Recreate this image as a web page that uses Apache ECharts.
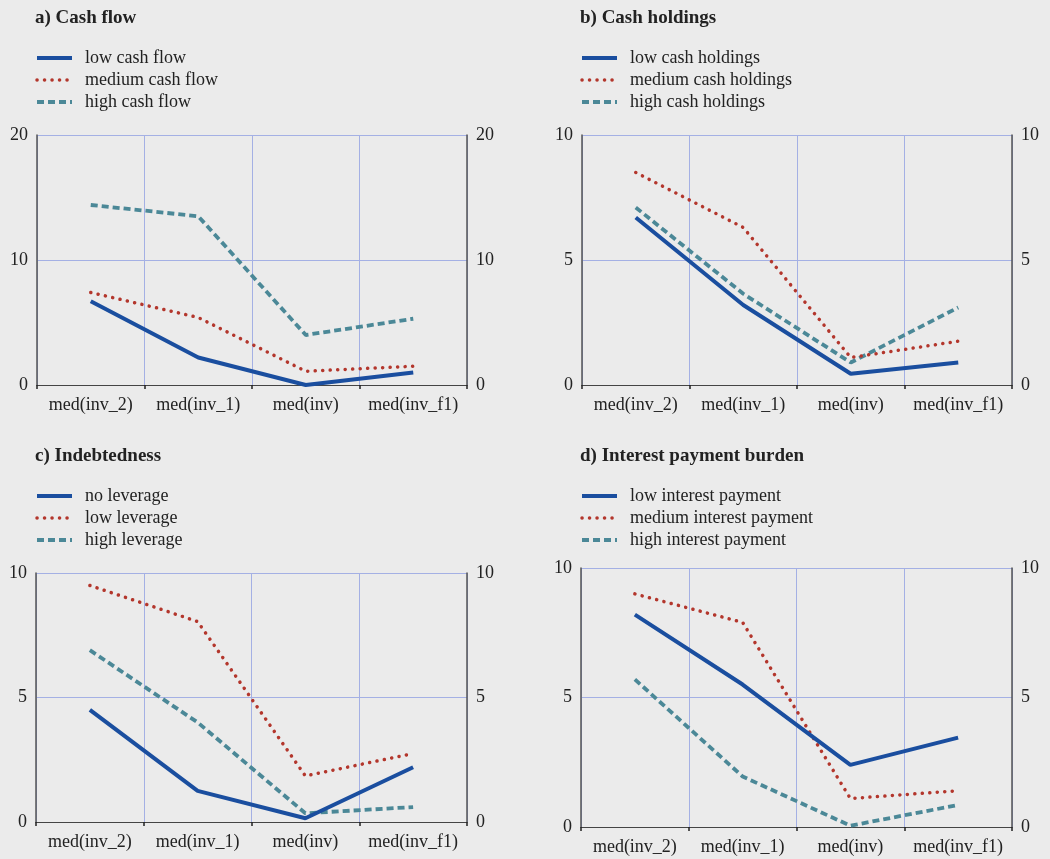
<!DOCTYPE html>
<html>
<head>
<meta charset="utf-8">
<script src="https://cdn.jsdelivr.net/npm/echarts@6/dist/echarts.min.js"></script>
<style>
html,body{margin:0;padding:0;background:#ebebeb;}
#chart{width:1050px;height:859px;}
</style>
</head>
<body>
<div id="chart"></div>
<script>
const categories = ['med(inv_2)', 'med(inv_1)', 'med(inv)', 'med(inv_f1)'];
const panelTitles = ['a) Cash flow', 'b) Cash holdings', 'c) Indebtedness', 'd) Interest payment burden'];

const namesA = ['low cash flow', 'medium cash flow', 'high cash flow'];
const namesB = ['low cash holdings', 'medium cash holdings', 'high cash holdings'];
const namesC = ['no leverage', 'low leverage', 'high leverage'];
const namesD = ['low interest payment', 'medium interest payment', 'high interest payment'];

const lowA  = [6.7, 2.2, 0.0, 1.0];
const medA  = [7.4, 5.4, 1.1, 1.5];
const highA = [14.4, 13.5, 4.0, 5.3];

const lowB  = [6.7, 3.2, 0.45, 0.9];
const medB  = [8.5, 6.3, 1.1, 1.75];
const highB = [7.1, 3.65, 0.9, 3.1];

const noneC = [4.5, 1.25, 0.15, 2.2];
const lowC  = [9.5, 8.05, 1.85, 2.75];
const highC = [6.9, 4.0, 0.35, 0.6];

const lowD  = [8.2, 5.5, 2.4, 3.45];
const medD  = [9.0, 7.9, 1.1, 1.4];
const highD = [5.7, 1.95, 0.05, 0.85];

const yMax = [20, 10, 10, 10];
const yStep = [10, 5, 5, 5];

const panels = [
  {names: namesA, data: [lowA, medA, highA]},
  {names: namesB, data: [lowB, medB, highB]},
  {names: namesC, data: [noneC, lowC, highC]},
  {names: namesD, data: [lowD, medD, highD]}
];

const FONT = 'Liberation Serif';
const TXT = '#222';
const GRIDC = '#a4b0e4';
const colors = ['#1a4e9f', '#b3362c', '#4b8897'];
const lineStyles = [
  {width: 4, type: 'solid', cap: 'butt'},
  {width: 3.5, type: [0.1, 7.4], cap: 'round'},
  {width: 3.8, type: [7, 4], cap: 'butt'}
];

const layout = [
  {left: 37, top: 135, width: 430, height: 250, tx: 35, ty: 9, ly: 49},
  {left: 582, top: 135, width: 430, height: 250, tx: 580, ty: 9, ly: 49},
  {left: 36, top: 573, width: 431, height: 249, tx: 35, ty: 447, ly: 487},
  {left: 581, top: 568, width: 431, height: 259, tx: 580, ty: 447, ly: 487}
];

const option = {
  backgroundColor: '#ebebeb',
  animation: false,
  textStyle: {fontFamily: FONT, color: TXT},
  title: [], legend: [], grid: [], xAxis: [], yAxis: [], series: []
};

panels.forEach((p, i) => {
  const L = layout[i];
  option.title.push({
    text: panelTitles[i], left: L.tx, top: L.ty, padding: 0,
    textStyle: {fontFamily: FONT, fontWeight: 'bold', fontSize: 19, color: TXT}
  });
  option.legend.push({
    data: p.names.map((n, k) => ({name: n, lineStyle: Object.assign({color: colors[k]}, lineStyles[k])})),
    orient: 'vertical', left: L.tx, top: L.ly, padding: 0,
    itemWidth: 35, itemHeight: 16, itemGap: 4,
    itemStyle: {opacity: 0},
    textStyle: {fontFamily: FONT, fontSize: 18, color: TXT, padding: [0, 0, 0, 8]}
  });
  option.grid.push({left: L.left, top: L.top, width: L.width, height: L.height});
  option.xAxis.push({
    type: 'category', gridIndex: i, data: categories, boundaryGap: true, offset: 1,
    axisLine: {show: true, lineStyle: {color: '#444', width: 1}},
    axisTick: {show: true, interval: 0, length: 4, lineStyle: {color: '#222', width: 1.5}},
    axisLabel: {interval: 0, hideOverlap: false, fontFamily: FONT, fontSize: 18, color: TXT, margin: 10},
    splitLine: {show: true, interval: 0, lineStyle: {color: GRIDC, width: 1}}
  });
  const yCommon = {
    type: 'value', gridIndex: i, min: 0, max: yMax[i], interval: yStep[i],
    axisLine: {show: true, lineStyle: {color: '#555', width: 1.5}},
    axisTick: {show: false},
    axisLabel: {fontFamily: FONT, fontSize: 18, color: TXT, margin: 9}
  };
  option.yAxis.push(Object.assign({}, yCommon, {
    position: 'left',
    splitLine: {show: true, lineStyle: {color: ['#ffffff', GRIDC, GRIDC], width: 1}}
  }));
  option.yAxis.push(Object.assign({}, yCommon, {
    position: 'right',
    splitLine: {show: false}
  }));
  p.names.forEach((n, k) => {
    option.series.push({
      name: n, type: 'line', xAxisIndex: i, yAxisIndex: 2 * i,
      data: p.data[k], symbol: 'none', showSymbol: false,
      color: colors[k],
      lineStyle: Object.assign({color: colors[k]}, lineStyles[k]),
      z: 3 - k
    });
  });
});

const chart = echarts.init(document.getElementById('chart'), null, {renderer: 'canvas'});
chart.setOption(option);
</script>
</body>
</html>
